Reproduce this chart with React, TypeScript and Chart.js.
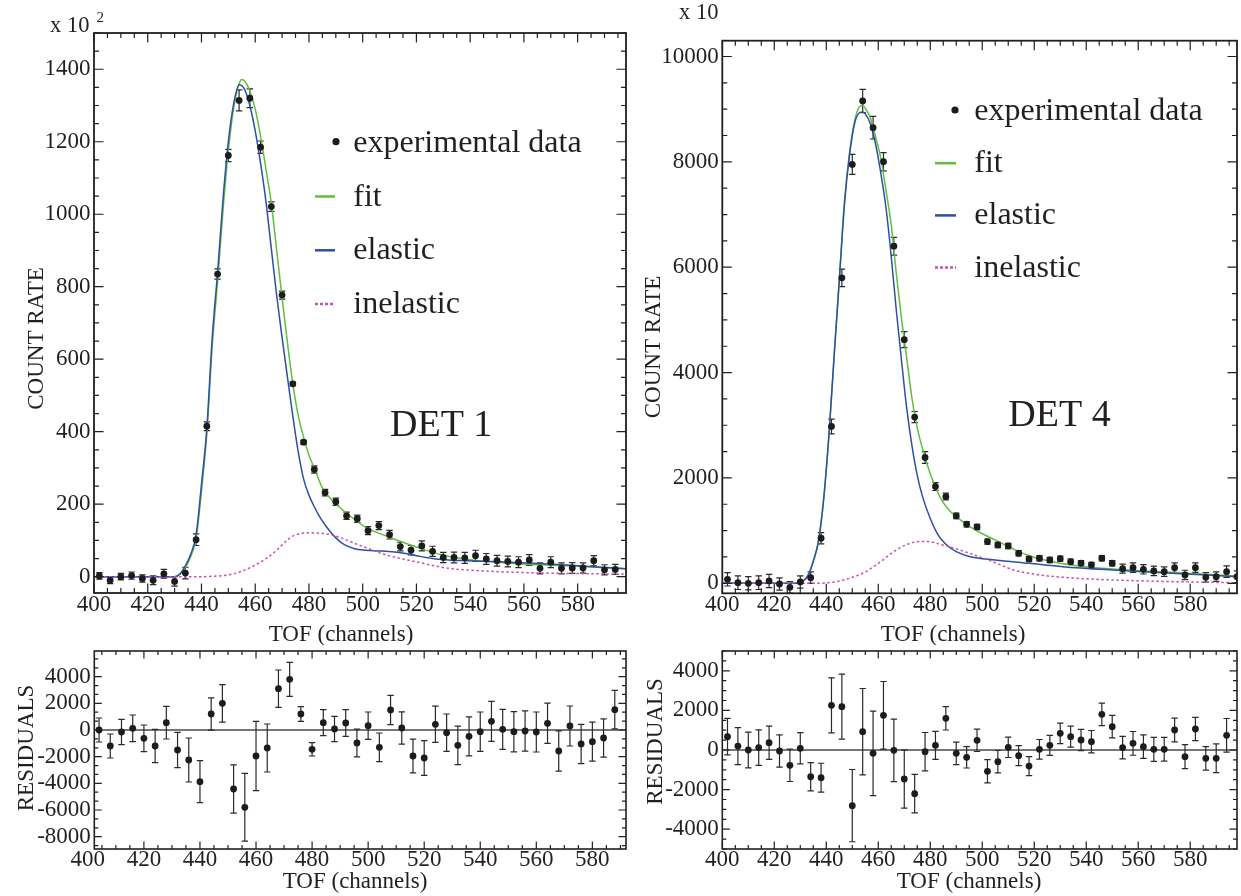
import React, { useEffect, useRef } from "react";
import { Chart, registerables } from "chart.js";
Chart.register(...registerables);

const FONT = '"Liberation Serif", "Times New Roman", Times, serif';
const INK = "#231f20";
const GREEN = "#5fbf3f";
const BLUE = "#2f4ea6";
const PINK = "#c84fb4";
const DOT = "#1c1c1c";

// ---------- tick labels ----------
const X_TICKS = [400, 420, 440, 460, 480, 500, 520, 540, 560, 580];
const D1_Y_TICKS = [0, 200, 400, 600, 800, 1000, 1200, 1400];
const D4_Y_TICKS = [0, 2000, 4000, 6000, 8000, 10000];
const R1_Y_TICKS = [-8000, -6000, -4000, -2000, 0, 2000, 4000];
const R4_Y_TICKS = [-4000, -2000, 0, 2000, 4000];

// ---------- DET 1 (count rate, x 10^2) ----------
const D1_X = [402, 406, 410, 414, 418, 422, 426, 430, 434, 438, 442, 446, 450, 454, 458, 462, 466, 470, 474, 478, 482, 486, 490, 494, 498, 502, 506, 510, 514, 518, 522, 526, 530, 534, 538, 542, 546, 550, 554, 558, 562, 566, 570, 574, 578, 582, 586, 590, 594];
const D1_Y = [2, -10, 0, 3, -5, -10, 8, -13, 10, 102, 415, 835, 1162, 1314, 1320, 1185, 1021, 777, 532, 371, 296, 232, 207, 168, 160, 127, 141, 116, 83, 73, 85, 70, 53, 53, 52, 58, 49, 44, 42, 40, 46, 23, 40, 23, 24, 24, 44, 19, 20];
const D1_ERR = [9, 9, 9, 10, 10, 12, 12, 13, 16, 16, 12, 14, 17, 29, 26, 17, 13, 11, 5, 5, 10, 9, 10, 10, 10, 11, 11, 12, 12, 13, 14, 14, 14, 15, 15, 15, 15, 15, 15, 15, 15, 15, 15, 15, 15, 14, 14, 14, 14];

const D1_FIT_X = [400, 430, 432, 434, 436, 438, 440, 442, 444, 446, 448, 450, 452, 454, 455, 456, 458, 460, 462, 464, 466, 468, 470, 472, 474, 476, 478, 480, 482, 485, 490, 495, 501, 510, 520, 530, 542, 557, 576, 598];
const D1_FIT_Y = [0, 0, 6, 25, 56, 105, 235, 395, 635, 815, 1010, 1175, 1295, 1360, 1372, 1368, 1340, 1290, 1215, 1125, 1030, 900, 770, 645, 532, 445, 385, 335, 300, 245, 201, 169, 137, 109, 82, 59, 45, 36, 30, 22];

const D1_EL_X = [400, 430, 432, 434, 436, 438, 440, 442, 444, 446, 448, 450, 452, 454, 456, 458, 460, 462, 464, 466, 468, 470, 472, 474, 476, 478, 480, 482, 484, 487, 490, 493, 497, 501, 507, 512, 516, 520, 526, 532, 539, 551, 563, 576, 587, 598];
const D1_EL_Y = [0, 0, 8, 30, 62, 115, 255, 410, 660, 840, 1040, 1200, 1305, 1357, 1345, 1300, 1230, 1140, 1035, 905, 775, 660, 550, 443, 345, 270, 225, 193, 165, 133, 107, 89, 77, 73, 71, 68, 64, 58, 50, 46, 44, 41, 37, 32, 27, 22];

const D1_IN_X = [400, 440, 444, 448, 452, 456, 460, 464, 468, 471, 474, 477, 480, 484, 488, 492, 497, 502, 507, 513, 520, 526, 532, 540, 550, 562, 575, 588, 598];
const D1_IN_Y = [0, 0, 1, 3, 8, 18, 32, 50, 73, 95, 112, 119, 121, 120, 116, 107, 92, 78, 64, 52, 41, 31, 23, 18, 14, 11, 9, 8, 7];

// ---------- DET 1 residuals ----------
const R1_X = [404, 408, 412, 416, 420, 424, 428, 432, 436, 440, 444, 448, 452, 456, 460, 464, 468, 472, 476, 480, 484, 488, 492, 496, 500, 504, 508, 512, 516, 520, 524, 528, 532, 536, 540, 544, 548, 552, 556, 560, 564, 568, 572, 576, 580, 584, 588];
const R1_Y = [0, -1200, -150, 125, -625, -1200, 550, -1500, -2250, -3875, 1200, 2000, -4425, -5800, -1950, -1350, 3100, 3800, 1200, -1450, 550, 75, 525, -975, 325, -1300, 1500, 150, -1950, -2100, 425, -200, -1150, -475, -125, 650, 50, -125, -75, -150, 500, -1575, 300, -1050, -875, -600, 1525];
const R1_ERR = [900, 900, 940, 1000, 1000, 1240, 1225, 1325, 1650, 1575, 1210, 1410, 1810, 2540, 2600, 1800, 1400, 1275, 550, 500, 975, 940, 1010, 1040, 1025, 1075, 1100, 1210, 1260, 1310, 1360, 1400, 1440, 1460, 1475, 1500, 1500, 1510, 1510, 1500, 1510, 1510, 1500, 1475, 1460, 1440, 1440];

// ---------- DET 4 (count rate, x 10) ----------
const D4_X = [402, 406, 410, 414, 418, 422, 426, 430, 434, 438, 442, 446, 450, 454, 458, 462, 466, 470, 474, 478, 482, 486, 490, 494, 498, 502, 506, 510, 514, 518, 522, 526, 530, 534, 538, 542, 546, 550, 554, 558, 562, 566, 570, 574, 578, 582, 586, 590, 594, 598];
const D4_Y = [76, 12, 0, 12, 44, -13, -76, 25, 107, 855, 2977, 5798, 7952, 9155, 8649, 8003, 6399, 4625, 3156, 2388, 1837, 1647, 1279, 1121, 1070, 791, 728, 709, 570, 462, 475, 443, 468, 411, 380, 348, 475, 380, 278, 297, 266, 234, 221, 297, 158, 297, 114, 125, 221, 125];
const D4_ERR = [127, 130, 125, 130, 125, 115, 110, 115, 110, 105, 140, 165, 190, 222, 215, 174, 168, 152, 105, 110, 76, 63, 54, 50, 50, 50, 50, 50, 50, 50, 50, 50, 50, 50, 50, 50, 50, 50, 85, 90, 90, 90, 90, 90, 90, 90, 90, 90, 110, 110];

const D4_FIT_X = [400, 429, 431, 433, 435, 437, 439, 441, 443, 445, 447, 449, 451, 453, 454, 455, 457, 459, 461, 463, 465, 467, 469, 471, 473, 475, 478, 480, 482, 484, 487, 490, 493, 496, 500, 505, 510, 514, 519, 524, 530, 537, 546, 556, 566, 575, 586, 598];
const D4_FIT_Y = [0, 0, 40, 150, 420, 800, 1600, 2800, 4300, 5750, 7250, 8200, 8800, 9060, 9070, 9020, 8830, 8470, 8060, 7450, 6800, 5850, 5000, 4250, 3500, 2950, 2388, 2080, 1830, 1610, 1400, 1265, 1150, 1050, 940, 823, 700, 601, 510, 443, 380, 329, 285, 253, 225, 202, 170, 139];

const D4_EL_X = [400, 429, 431, 433, 435, 437, 439, 441, 443, 445, 447, 449, 451, 453, 454, 455, 457, 459, 461, 463, 465, 467, 469, 471, 473, 475, 477, 480, 483, 486, 490, 495, 505, 518, 531, 550, 569, 598];
const D4_EL_Y = [0, 0, 40, 150, 420, 800, 1600, 2800, 4300, 5750, 7200, 8150, 8750, 8940, 8947, 8910, 8720, 8330, 7780, 7120, 6200, 5150, 4200, 3300, 2600, 2050, 1650, 1230, 920, 740, 600, 510, 443, 380, 316, 253, 202, 126];

const D4_IN_X = [400, 436, 440, 444, 448, 451, 454, 458, 462, 465, 469, 472, 475, 478, 481, 484, 487, 491, 495, 499, 503, 507, 511, 515, 518, 524, 531, 540, 550, 562, 575, 586, 598];
const D4_IN_Y = [0, 0, 8, 32, 80, 130, 190, 310, 450, 570, 690, 755, 790, 795, 780, 735, 696, 640, 570, 500, 430, 350, 270, 215, 190, 145, 114, 85, 63, 45, 30, 20, 11];

// ---------- DET 4 residuals ----------
const R4_X = [402, 406, 410, 414, 418, 422, 426, 430, 434, 438, 442, 446, 450, 454, 458, 462, 466, 470, 474, 478, 482, 486, 490, 494, 498, 502, 506, 510, 514, 518, 522, 526, 530, 534, 538, 542, 546, 550, 554, 558, 562, 566, 570, 574, 578, 582, 586, 590, 594];
const R4_Y = [673, 200, 0, 120, 370, -50, -775, 85, -1350, -1400, 2255, 2190, -2810, 925, -170, 1750, -17, -1465, -2205, -85, 235, 1600, -170, -370, 490, -1075, -590, 135, -285, -810, 35, 235, 840, 673, 505, 420, 1800, 1180, 120, 335, 170, 35, 35, 1010, -335, 1060, -420, -420, 740];
const R4_ERR = [920, 935, 900, 900, 840, 815, 815, 790, 715, 730, 1390, 1640, 1825, 2180, 2130, 1710, 1580, 1470, 970, 970, 705, 590, 570, 540, 565, 590, 565, 515, 505, 480, 495, 505, 520, 530, 540, 565, 565, 570, 565, 600, 590, 605, 600, 600, 605, 590, 595, 725, 850];

const LEGEND_LABELS = ["experimental data", "fit", "elastic", "inelastic"];

// ---------- helpers ----------
const pts = (xs: number[], ys: number[]) => xs.map((x, i) => ({ x, y: ys[i] }));

type Box = { x: number; y: number; w: number; h: number };
type Area = { l: number; t: number; r: number; b: number };
type TextItem = { text: string; x: number; y: number; size: number; align?: CanvasTextAlign; rot?: number };
type LegendSpec = { tx: number; y0: number; gap: number; dotX: number; lx1: number; lx2: number; size: number };
type Spec = {
  box: Box; area: Area;
  xMin: number; xMax: number; yMin: number; yMax: number;
  xTicks: number[]; yTicks: number[]; xMinor: number; yMinor: number;
  major: number; minor: number; frame: number;
  xPad: number;
  datasets: any[];
  errs: { index: number; errs: number[] }[];
  zeroLine?: boolean;
  texts: TextItem[];
  legend?: LegendSpec;
};

function curveSets(fx: number[], fy: number[], ex: number[], ey: number[], ix: number[], iy: number[]) {
  return [
    { label: LEGEND_LABELS[1], data: pts(fx, fy), showLine: true, borderColor: GREEN, borderWidth: 1.5, pointRadius: 0, cubicInterpolationMode: "monotone", fill: false, order: 3 },
    { label: LEGEND_LABELS[2], data: pts(ex, ey), showLine: true, borderColor: BLUE, borderWidth: 1.5, pointRadius: 0, cubicInterpolationMode: "monotone", fill: false, order: 2 },
    { label: LEGEND_LABELS[3], data: pts(ix, iy), showLine: true, borderColor: PINK, borderWidth: 1.5, borderDash: [2.5, 2.5], pointRadius: 0, cubicInterpolationMode: "monotone", fill: false, order: 1 },
  ];
}

function pointSet(xs: number[], ys: number[]) {
  return { label: LEGEND_LABELS[0], data: pts(xs, ys), showLine: false, pointRadius: 3.4, pointBackgroundColor: DOT, pointBorderWidth: 0, borderColor: DOT, order: 0 };
}

function makeDeco(s: Spec) {
  const ox = s.box.x, oy = s.box.y;
  const drawText = (ctx: CanvasRenderingContext2D, t: TextItem) => {
    ctx.save();
    ctx.font = `${t.size}px ${FONT}`;
    ctx.fillStyle = INK;
    ctx.textAlign = t.align ?? "left";
    ctx.textBaseline = "alphabetic";
    ctx.translate(t.x - ox, t.y - oy);
    if (t.rot) ctx.rotate(t.rot);
    ctx.fillText(t.text, 0, 0);
    ctx.restore();
  };
  return {
    id: "deco",
    beforeDatasetsDraw(chart: any) {
      const ctx: CanvasRenderingContext2D = chart.ctx;
      const { left, right, top, bottom } = chart.chartArea;
      const ys = chart.scales.y;
      ctx.save();
      ctx.beginPath();
      ctx.rect(left, top, right - left, bottom - top);
      ctx.clip();
      if (s.zeroLine) {
        const y0 = ys.getPixelForValue(0);
        ctx.strokeStyle = "#4a4a4a";
        ctx.lineWidth = 1.3;
        ctx.beginPath();
        ctx.moveTo(left, y0);
        ctx.lineTo(right, y0);
        ctx.stroke();
      }
      ctx.strokeStyle = "#2a2a2a";
      ctx.lineWidth = 1.2;
      for (const e of s.errs) {
        const meta = chart.getDatasetMeta(e.index);
        const data = chart.data.datasets[e.index].data;
        meta.data.forEach((el: any, j: number) => {
          const v = data[j].y;
          const y1 = ys.getPixelForValue(v - e.errs[j]);
          const y2 = ys.getPixelForValue(v + e.errs[j]);
          const x = el.x;
          ctx.beginPath();
          ctx.moveTo(x, y1); ctx.lineTo(x, y2);
          ctx.moveTo(x - 3.2, y1); ctx.lineTo(x + 3.2, y1);
          ctx.moveTo(x - 3.2, y2); ctx.lineTo(x + 3.2, y2);
          ctx.stroke();
        });
      }
      ctx.restore();
    },
    afterDraw(chart: any) {
      const ctx: CanvasRenderingContext2D = chart.ctx;
      const { left, right, top, bottom } = chart.chartArea;
      const xs = chart.scales.x, ys = chart.scales.y;
      ctx.save();
      ctx.strokeStyle = INK;
      ctx.lineWidth = 1.2;
      const eps = 1e-6;
      for (let v = Math.ceil(s.xMin / s.xMinor) * s.xMinor; v <= s.xMax + eps; v += s.xMinor) {
        const px = xs.getPixelForValue(v);
        const isMajor = s.xTicks.some((t) => Math.abs(t - v) < 1e-3);
        const L = isMajor ? s.major : s.minor;
        ctx.beginPath();
        ctx.moveTo(px, bottom); ctx.lineTo(px, bottom - L);
        ctx.moveTo(px, top); ctx.lineTo(px, top + L);
        ctx.stroke();
      }
      for (let v = Math.ceil(s.yMin / s.yMinor - eps) * s.yMinor; v <= s.yMax + eps; v += s.yMinor) {
        const py = ys.getPixelForValue(v);
        const isMajor = s.yTicks.some((t) => Math.abs(t - v) < 1e-3);
        const L = isMajor ? s.major : s.minor;
        ctx.beginPath();
        ctx.moveTo(left, py); ctx.lineTo(left + L, py);
        ctx.moveTo(right, py); ctx.lineTo(right - L, py);
        ctx.stroke();
      }
      ctx.lineWidth = s.frame;
      ctx.strokeRect(left, top, right - left, bottom - top);
      ctx.restore();

      for (const t of s.texts) drawText(ctx, t);

      if (s.legend) {
        const L = s.legend;
        LEGEND_LABELS.forEach((lab, i) => {
          const by = L.y0 + i * L.gap - oy;
          ctx.save();
          if (i === 0) {
            ctx.fillStyle = DOT;
            ctx.beginPath();
            ctx.arc(L.dotX - ox, by - 10, 3.6, 0, Math.PI * 2);
            ctx.fill();
          } else {
            ctx.strokeStyle = i === 1 ? GREEN : i === 2 ? BLUE : PINK;
            ctx.lineWidth = 2.5;
            if (i === 3) ctx.setLineDash([3, 2]);
            ctx.beginPath();
            ctx.moveTo(L.lx1 - ox, by - 9);
            ctx.lineTo(L.lx2 - ox, by - 9);
            ctx.stroke();
          }
          ctx.restore();
          drawText(ctx, { text: lab, x: L.tx, y: L.y0 + i * L.gap, size: L.size });
        });
      }
    },
  };
}

function makeConfig(s: Spec): any {
  const tickFont = { family: FONT, size: 23, lineHeight: 1 };
  return {
    type: "scatter",
    data: { datasets: s.datasets },
    options: {
      responsive: false,
      animation: false,
      devicePixelRatio: 1,
      events: [],
      layout: {
        padding: { left: 0, top: s.area.t - s.box.y, right: s.box.x + s.box.w - s.area.r, bottom: 0 },
      },
      plugins: { legend: { display: false }, tooltip: { enabled: false }, title: { display: false } },
      scales: {
        x: {
          type: "linear", position: "bottom", min: s.xMin, max: s.xMax,
          grid: { display: false, drawTicks: false }, border: { display: false },
          afterBuildTicks: (sc: any) => { sc.ticks = s.xTicks.map((v) => ({ value: v })); },
          afterFit: (sc: any) => { sc.height = s.box.y + s.box.h - s.area.b; },
          ticks: { font: tickFont, color: INK, padding: s.xPad, maxRotation: 0, autoSkip: false, callback: (v: any) => String(v) },
        },
        y: {
          type: "linear", position: "left", min: s.yMin, max: s.yMax,
          grid: { display: false, drawTicks: false }, border: { display: false },
          afterBuildTicks: (sc: any) => { sc.ticks = s.yTicks.map((v) => ({ value: v })); },
          afterFit: (sc: any) => { sc.width = s.area.l - s.box.x; },
          ticks: { font: tickFont, color: INK, padding: 3.5, autoSkip: false, callback: (v: any) => String(v) },
        },
      },
    },
    plugins: [makeDeco(s)],
  };
}

// ---------- panel specs ----------
const ROT = -Math.PI / 2;

const SPEC_TL: Spec = {
  box: { x: 0, y: 0, w: 632, h: 645 },
  area: { l: 94, t: 33, r: 626, b: 593 },
  xMin: 400, xMax: 598, yMin: -45, yMax: 1500,
  xTicks: X_TICKS, yTicks: D1_Y_TICKS, xMinor: 5, yMinor: 50,
  major: 9.5, minor: 5, frame: 1.8, xPad: 0,
  datasets: [pointSet(D1_X, D1_Y), ...curveSets(D1_FIT_X, D1_FIT_Y, D1_EL_X, D1_EL_Y, D1_IN_X, D1_IN_Y)],
  errs: [{ index: 0, errs: D1_ERR }],
  texts: [
    { text: "COUNT RATE", x: 43.3, y: 338.5, size: 23, align: "center", rot: ROT },
    { text: "TOF (channels)", x: 341, y: 641, size: 23, align: "center" },
    { text: "x 10", x: 50, y: 31.5, size: 22.5 },
    { text: "2", x: 96.5, y: 21.7, size: 15 },
    { text: "DET 1", x: 390, y: 436, size: 38 },
  ],
  legend: { tx: 353.3, y0: 151.7, gap: 53.8, dotX: 336, lx1: 315, lx2: 335, size: 32 },
};

const SPEC_TR: Spec = {
  box: { x: 632, y: 0, w: 609, h: 645 },
  area: { l: 722.3, t: 40.7, r: 1238.3, b: 593.3 },
  xMin: 400, xMax: 598, yMin: -190, yMax: 10300,
  xTicks: X_TICKS, yTicks: D4_Y_TICKS, xMinor: 5, yMinor: 500,
  major: 9.5, minor: 5, frame: 1.8, xPad: 0,
  datasets: [pointSet(D4_X, D4_Y), ...curveSets(D4_FIT_X, D4_FIT_Y, D4_EL_X, D4_EL_Y, D4_IN_X, D4_IN_Y)],
  errs: [{ index: 0, errs: D4_ERR }],
  texts: [
    { text: "COUNT RATE", x: 660, y: 347, size: 23, align: "center", rot: ROT },
    { text: "TOF (channels)", x: 953, y: 641, size: 23, align: "center" },
    { text: "x 10", x: 679, y: 19, size: 22.5 },
    { text: "DET 4", x: 1008.3, y: 426, size: 38 },
  ],
  legend: { tx: 974.3, y0: 120, gap: 52.2, dotX: 955, lx1: 935, lx2: 956, size: 32 },
};

const SPEC_BL: Spec = {
  box: { x: 0, y: 620, w: 632, h: 276 },
  area: { l: 94.3, t: 651, r: 626, b: 849 },
  xMin: 402.3, xMax: 592, yMin: -8925, yMax: 5925,
  xTicks: X_TICKS, yTicks: R1_Y_TICKS, xMinor: 5, yMinor: 2000 / 3,
  major: 7.5, minor: 4, frame: 1.6, xPad: -1,
  datasets: [pointSet(R1_X, R1_Y)],
  errs: [{ index: 0, errs: R1_ERR }],
  zeroLine: true,
  texts: [
    { text: "RESIDUALS", x: 33.3, y: 748, size: 23, align: "center", rot: ROT },
    { text: "TOF (channels)", x: 355, y: 888.3, size: 23, align: "center" },
  ],
};

const SPEC_BR: Spec = {
  box: { x: 632, y: 620, w: 609, h: 276 },
  area: { l: 722.3, t: 651, r: 1238.3, b: 849 },
  xMin: 400, xMax: 598, yMin: -5000, yMax: 5000,
  xTicks: X_TICKS, yTicks: R4_Y_TICKS, xMinor: 5, yMinor: 500,
  major: 7.5, minor: 4, frame: 1.6, xPad: -1,
  datasets: [pointSet(R4_X, R4_Y)],
  errs: [{ index: 0, errs: R4_ERR }],
  zeroLine: true,
  texts: [
    { text: "RESIDUALS", x: 662, y: 741.5, size: 23, align: "center", rot: ROT },
    { text: "TOF (channels)", x: 969, y: 888.3, size: 23, align: "center" },
  ],
};

function Panel({ spec }: { spec: Spec }) {
  const ref = useRef<HTMLCanvasElement>(null);
  useEffect(() => {
    const chart = new Chart(ref.current as HTMLCanvasElement, makeConfig(spec));
    return () => chart.destroy();
  }, [spec]);
  const b = spec.box;
  return (
    <canvas
      ref={ref}
      width={b.w}
      height={b.h}
      style={{ position: "absolute", left: b.x, top: b.y, width: b.w, height: b.h }}
    />
  );
}

export default function App() {
  return (
    <div style={{ position: "absolute", left: 0, top: 0, width: 1241, height: 896, background: "#ffffff" }}>
      <Panel spec={SPEC_TL} />
      <Panel spec={SPEC_TR} />
      <Panel spec={SPEC_BL} />
      <Panel spec={SPEC_BR} />
    </div>
  );
}
